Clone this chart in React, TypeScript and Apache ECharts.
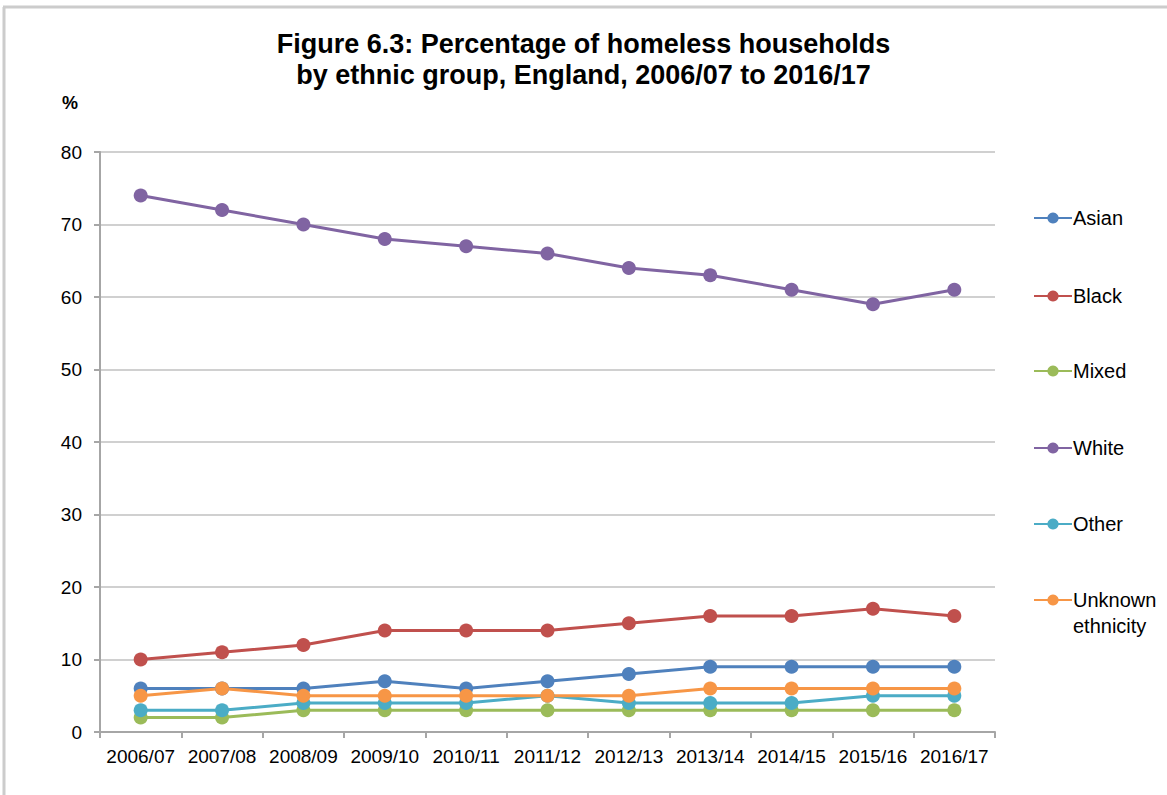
import React, { useEffect, useRef } from "react";
import * as echarts from "echarts";

const categories = ["2006/07", "2007/08", "2008/09", "2009/10", "2010/11", "2011/12", "2012/13", "2013/14", "2014/15", "2015/16", "2016/17"];
const seriesNames = ["Asian", "Black", "Mixed", "White", "Other", "Unknown ethnicity"];
const asian = [6, 6, 6, 7, 6, 7, 8, 9, 9, 9, 9];
const black = [10, 11, 12, 14, 14, 14, 15, 16, 16, 17, 16];
const mixed = [2, 2, 3, 3, 3, 3, 3, 3, 3, 3, 3];
const white = [74, 72, 70, 68, 67, 66, 64, 63, 61, 59, 61];
const other = [3, 3, 4, 4, 4, 5, 4, 4, 4, 5, 5];
const unknown = [5, 6, 5, 5, 5, 5, 5, 6, 6, 6, 6];
const colors = ["#4f81bd", "#c0504d", "#9bbb59", "#8064a2", "#4bacc6", "#f79646"];
const titleText = "Figure 6.3: Percentage of homeless households\nby ethnic group, England, 2006/07 to 2016/17";

export default function App() {
  const ref = useRef<HTMLDivElement>(null);
  useEffect(() => {
    const chart = echarts.init(ref.current!, undefined, { renderer: "svg" });
    const values = [asian, black, mixed, white, other, unknown];
    const font = "'Liberation Sans', Arial, sans-serif";
    const legendTops = [200, 278, 353, 430, 506, 556];
    chart.setOption({
      animation: false,
      textStyle: { fontFamily: font },
      title: {
        text: titleText,
        left: "center",
        top: 23,
        textStyle: { fontFamily: font, fontSize: 27, fontWeight: "bold", color: "#000", lineHeight: 31 },
      },
      legend: seriesNames.map((n, i) => ({
        data: [n],
        orient: "vertical",
        left: 1028,
        top: legendTops[i],
        itemWidth: 38,
        itemHeight: 14,
        itemGap: 0,
        formatter: (name: string) => (name === "Unknown ethnicity" ? " \nUnknown\nethnicity" : name),
        textStyle: {
          fontFamily: font,
          fontSize: 20,
          color: "#000",
          lineHeight: 26,
          padding: [0, 0, 0, -4],
        },
      })),
      grid: { left: 100, right: 172, top: 152, bottom: 63 },
      xAxis: {
        type: "category",
        data: categories,
        boundaryGap: true,
        axisLine: { lineStyle: { color: "#a6a6a6", width: 2 } },
        axisTick: { show: true, length: 6, lineStyle: { color: "#a6a6a6", width: 2 } },
        axisLabel: { fontFamily: font, fontSize: 19, color: "#000", margin: 15, interval: 0 },
      },
      yAxis: {
        type: "value",
        min: 0,
        max: 80,
        interval: 10,
        axisLine: { show: true, lineStyle: { color: "#a6a6a6", width: 2 } },
        axisTick: { show: true, length: 6, lineStyle: { color: "#a6a6a6", width: 2 } },
        axisLabel: { fontFamily: font, fontSize: 19, color: "#000", margin: 18 },
        splitLine: { lineStyle: { color: "#d0d0d0", width: 2 } },
      },
      graphic: [
        { type: "line", shape: { x1: 3, y1: 7, x2: 1167, y2: 7 }, style: { stroke: "#cccccc", lineWidth: 3 } },
        { type: "line", shape: { x1: 4, y1: 7, x2: 4, y2: 795 }, style: { stroke: "#cccccc", lineWidth: 3 } },
        { type: "text", left: 62, top: 94, style: { text: "%", fontFamily: font, fontSize: 18, fontWeight: "bold", fill: "#000" } },
      ],
      series: seriesNames.map((n, i) => ({
        name: n,
        type: "line",
        data: values[i],
        symbol: "circle",
        symbolSize: 14,
        color: colors[i],
        lineStyle: { width: 3, color: colors[i] },
        itemStyle: { color: colors[i] },
      })),
    });
    return () => chart.dispose();
  }, []);
  return <div ref={ref} style={{ position: "absolute", left: 0, top: 0, width: 1167, height: 795 }} />;
}
